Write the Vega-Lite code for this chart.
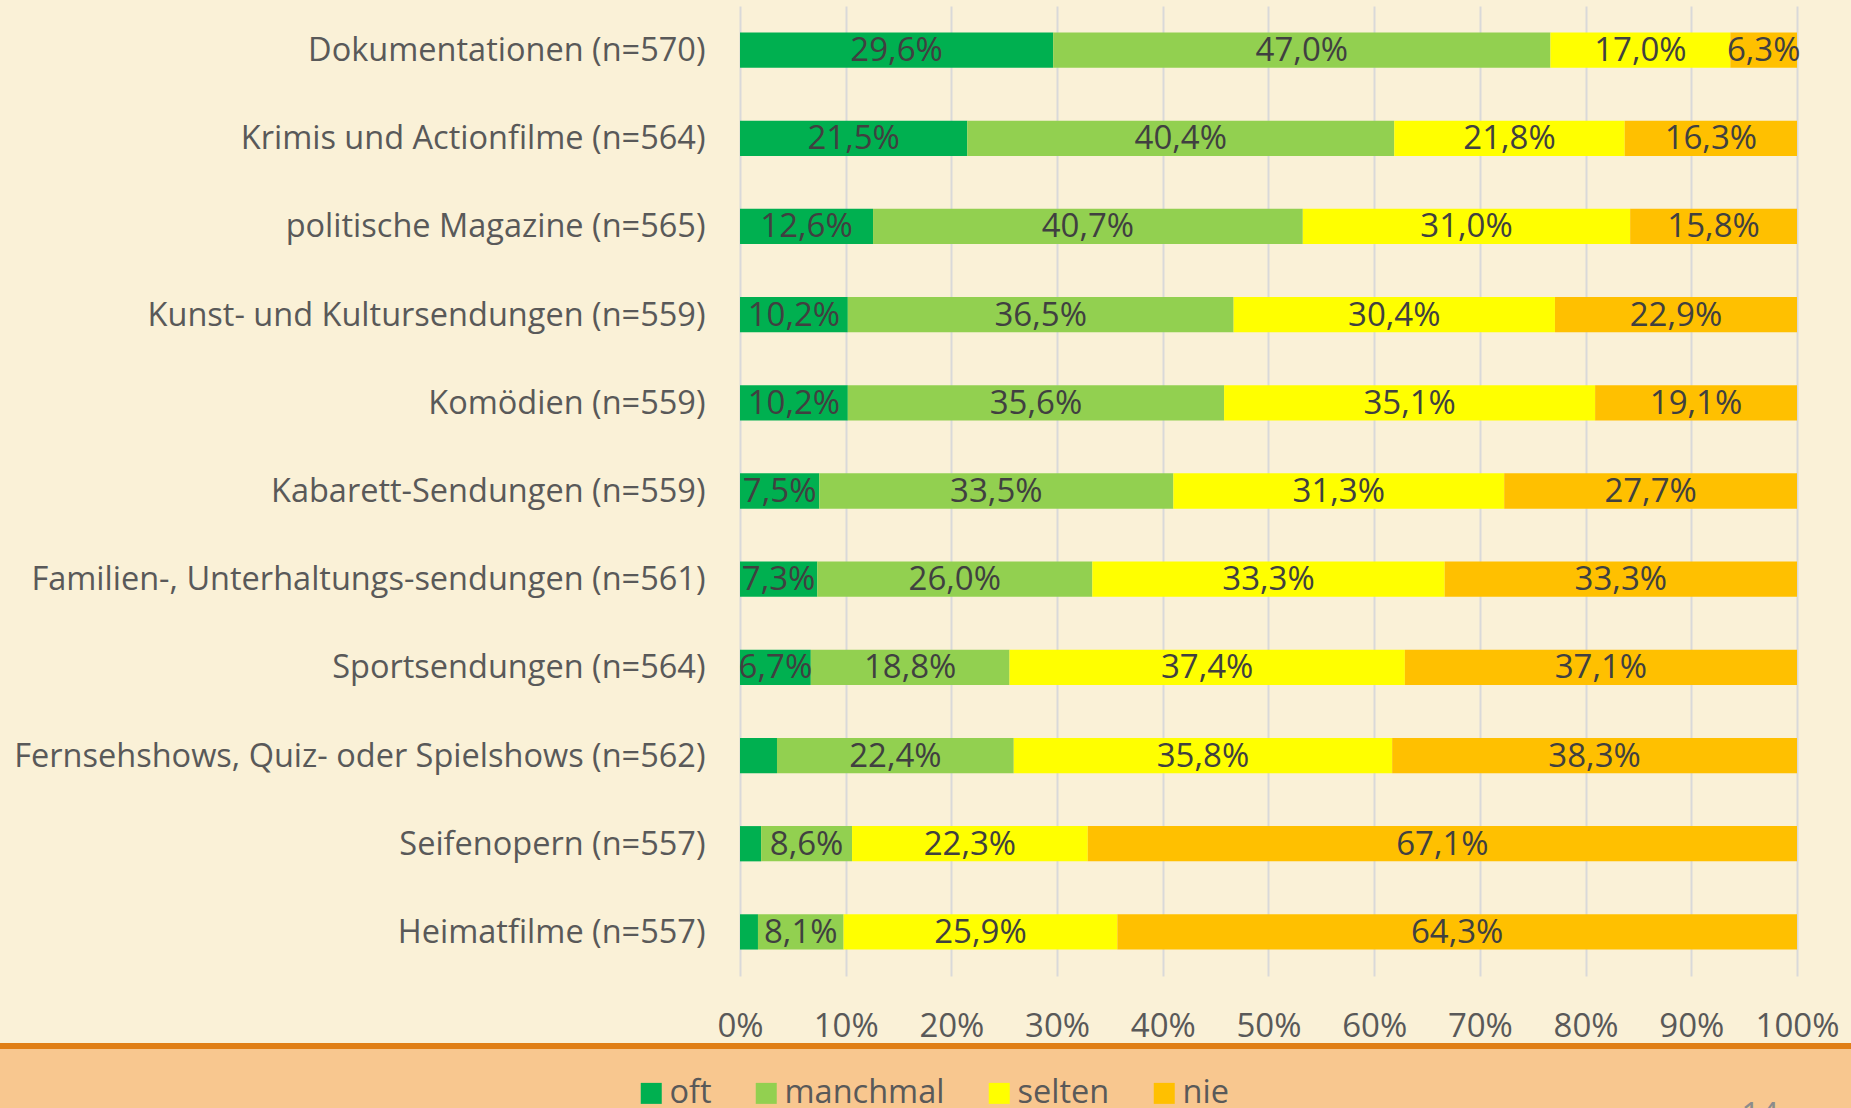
{
  "$schema": "https://vega.github.io/schema/vega-lite/v6.json",
  "background": "#FAF1D7",
  "padding": {"left": 0, "top": 6, "right": 0, "bottom": 0},
  "config": {
    "font": "Open Sans",
    "view": {"stroke": null},
    "concat": {"spacing": 0},
    "locale": {"number": {"decimal": ",", "thousands": ".", "grouping": [3], "currency": ["", " €"]}},
    "legend": {
      "symbolType": "square",
      "symbolSize": 441,
      "symbolStrokeWidth": 0,
      "labelFontSize": 32.5,
      "labelFont": "Open Sans",
      "labelColor": "#595959",
      "labelOffset": 2,
      "columnPadding": 38,
      "padding": 0,
      "rowPadding": 0
    }
  },
  "vconcat": [
    {
      "width": 1851,
      "height": 970,
      "data": {"values": [
        {"c": "Dokumentationen (n=570)", "k": "oft", "rank": 1, "v": 0.296},
        {"c": "Dokumentationen (n=570)", "k": "manchmal", "rank": 2, "v": 0.470},
        {"c": "Dokumentationen (n=570)", "k": "selten", "rank": 3, "v": 0.170},
        {"c": "Dokumentationen (n=570)", "k": "nie", "rank": 4, "v": 0.063},
        {"c": "Krimis und Actionfilme (n=564)", "k": "oft", "rank": 1, "v": 0.215},
        {"c": "Krimis und Actionfilme (n=564)", "k": "manchmal", "rank": 2, "v": 0.404},
        {"c": "Krimis und Actionfilme (n=564)", "k": "selten", "rank": 3, "v": 0.218},
        {"c": "Krimis und Actionfilme (n=564)", "k": "nie", "rank": 4, "v": 0.163},
        {"c": "politische Magazine (n=565)", "k": "oft", "rank": 1, "v": 0.126},
        {"c": "politische Magazine (n=565)", "k": "manchmal", "rank": 2, "v": 0.407},
        {"c": "politische Magazine (n=565)", "k": "selten", "rank": 3, "v": 0.310},
        {"c": "politische Magazine (n=565)", "k": "nie", "rank": 4, "v": 0.158},
        {"c": "Kunst- und Kultursendungen (n=559)", "k": "oft", "rank": 1, "v": 0.102},
        {"c": "Kunst- und Kultursendungen (n=559)", "k": "manchmal", "rank": 2, "v": 0.365},
        {"c": "Kunst- und Kultursendungen (n=559)", "k": "selten", "rank": 3, "v": 0.304},
        {"c": "Kunst- und Kultursendungen (n=559)", "k": "nie", "rank": 4, "v": 0.229},
        {"c": "Komödien (n=559)", "k": "oft", "rank": 1, "v": 0.102},
        {"c": "Komödien (n=559)", "k": "manchmal", "rank": 2, "v": 0.356},
        {"c": "Komödien (n=559)", "k": "selten", "rank": 3, "v": 0.351},
        {"c": "Komödien (n=559)", "k": "nie", "rank": 4, "v": 0.191},
        {"c": "Kabarett-Sendungen (n=559)", "k": "oft", "rank": 1, "v": 0.075},
        {"c": "Kabarett-Sendungen (n=559)", "k": "manchmal", "rank": 2, "v": 0.335},
        {"c": "Kabarett-Sendungen (n=559)", "k": "selten", "rank": 3, "v": 0.313},
        {"c": "Kabarett-Sendungen (n=559)", "k": "nie", "rank": 4, "v": 0.277},
        {"c": "Familien-, Unterhaltungs-sendungen (n=561)", "k": "oft", "rank": 1, "v": 0.073},
        {"c": "Familien-, Unterhaltungs-sendungen (n=561)", "k": "manchmal", "rank": 2, "v": 0.260},
        {"c": "Familien-, Unterhaltungs-sendungen (n=561)", "k": "selten", "rank": 3, "v": 0.333},
        {"c": "Familien-, Unterhaltungs-sendungen (n=561)", "k": "nie", "rank": 4, "v": 0.333},
        {"c": "Sportsendungen (n=564)", "k": "oft", "rank": 1, "v": 0.067},
        {"c": "Sportsendungen (n=564)", "k": "manchmal", "rank": 2, "v": 0.188},
        {"c": "Sportsendungen (n=564)", "k": "selten", "rank": 3, "v": 0.374},
        {"c": "Sportsendungen (n=564)", "k": "nie", "rank": 4, "v": 0.371},
        {"c": "Fernsehshows, Quiz- oder Spielshows (n=562)", "k": "oft", "rank": 1, "v": 0.035},
        {"c": "Fernsehshows, Quiz- oder Spielshows (n=562)", "k": "manchmal", "rank": 2, "v": 0.224},
        {"c": "Fernsehshows, Quiz- oder Spielshows (n=562)", "k": "selten", "rank": 3, "v": 0.358},
        {"c": "Fernsehshows, Quiz- oder Spielshows (n=562)", "k": "nie", "rank": 4, "v": 0.383},
        {"c": "Seifenopern (n=557)", "k": "oft", "rank": 1, "v": 0.020},
        {"c": "Seifenopern (n=557)", "k": "manchmal", "rank": 2, "v": 0.086},
        {"c": "Seifenopern (n=557)", "k": "selten", "rank": 3, "v": 0.223},
        {"c": "Seifenopern (n=557)", "k": "nie", "rank": 4, "v": 0.671},
        {"c": "Heimatfilme (n=557)", "k": "oft", "rank": 1, "v": 0.017},
        {"c": "Heimatfilme (n=557)", "k": "manchmal", "rank": 2, "v": 0.081},
        {"c": "Heimatfilme (n=557)", "k": "selten", "rank": 3, "v": 0.259},
        {"c": "Heimatfilme (n=557)", "k": "nie", "rank": 4, "v": 0.643}
      ]},
      "encoding": {
        "y": {
          "field": "c",
          "type": "nominal",
          "sort": null,
          "scale": {"paddingInner": 0.6, "paddingOuter": 0.3},
          "axis": {
            "title": null,
            "offset": -740,
            "labelFontSize": 32.5,
            "labelColor": "#595959",
            "labelPadding": 35,
            "labelLimit": 1000,
            "labelOffset": 1,
            "ticks": false,
            "domain": false,
            "grid": false
          }
        }
      },
      "layer": [
        {
          "mark": {"type": "bar"},
          "encoding": {
            "x": {
              "field": "v",
              "type": "quantitative",
              "stack": "normalize",
              "scale": {"domain": [-0.70009, 1.05109], "nice": false, "zero": false},
              "axis": {
                "title": null,
                "values": [0, 0.1, 0.2, 0.3, 0.4, 0.5, 0.6, 0.7, 0.8, 0.9, 1],
                "format": ".0%",
                "grid": true,
                "gridColor": "#D9D9D9",
                "gridWidth": 2,
                "domain": false,
                "ticks": false,
                "labelFontSize": 33,
                "labelColor": "#595959",
                "labelPadding": 34,
                "labelFlush": false
              }
            },
            "color": {
              "field": "k",
              "type": "nominal",
              "scale": {"domain": ["oft", "manchmal", "selten", "nie"], "range": ["#00B050", "#92D050", "#FFFF00", "#FFC000"]},
              "legend": {"orient": "none", "legendX": 635, "legendY": 1071, "direction": "horizontal", "title": null}
            },
            "order": {"field": "rank", "type": "quantitative"}
          }
        },
        {
          "mark": {"type": "text", "fontSize": 33, "color": "#404040", "align": "center", "baseline": "middle", "dy": 1},
          "encoding": {
            "x": {"field": "v", "type": "quantitative", "stack": "normalize", "bandPosition": 0.5},
            "detail": {"field": "k"},
            "order": {"field": "rank", "type": "quantitative"},
            "text": {"field": "v", "type": "quantitative", "format": ".1%", "condition": {"test": "datum.v < 0.04", "value": ""}}
          }
        }
      ]
    },
    {
      "width": 1851,
      "height": 6,
      "view": {"fill": "#E07F16", "stroke": null},
      "data": {"values": []},
      "mark": {"type": "rule"},
      "encoding": {}
    },
    {
      "width": 1851,
      "height": 59,
      "view": {"fill": "#F8C78F", "stroke": null},
      "data": {"values": []},
      "mark": {"type": "rule"},
      "encoding": {},
      "title": {"text": "14", "orient": "bottom", "anchor": "end", "offset": -8, "dx": -72, "fontSize": 33, "color": "#8C8C8C", "fontWeight": "normal", "font": "Open Sans"}
    }
  ]
}
